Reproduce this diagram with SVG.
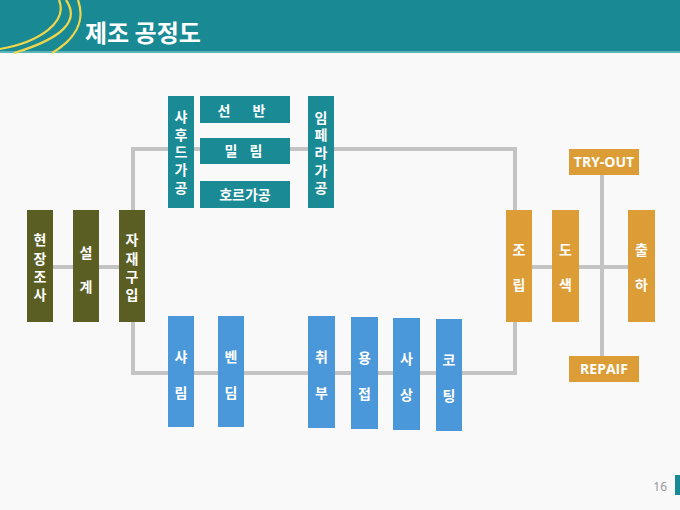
<svg xmlns="http://www.w3.org/2000/svg" width="680" height="510" viewBox="0 0 680 510">
<style>
.bg{fill:#f9f9f9}
.olive{fill:#5b5e23}
.teal{fill:#1a8a95}
.blue{fill:#4a97d9}
.orange{fill:#dc9d37}
.t{font-family:"Noto Sans CJK KR","Noto Sans",sans-serif;font-weight:bold;font-size:14px;fill:#ffffff;text-anchor:middle}
.e{font-family:"Open Sans","Noto Sans",sans-serif;font-weight:bold;font-size:14px;fill:#ffffff;text-anchor:middle}
.conn{fill:none;stroke:#c3c3c3;stroke-width:4}
.curve{fill:none;stroke:#f2d64a;stroke-width:2.2}
</style>
<rect class="bg" x="0" y="0" width="680" height="510"/>
<g id="header">
<rect x="0" y="0" width="680" height="52" fill="#198a94"/>
<rect x="0" y="51" width="680" height="2" fill="#5cb4bb"/>
<path class="curve" d="M59,0 C68,22 40,42 0,49"/>
<path class="curve" d="M66,0 C80,20 64,38 14,53"/>
<path class="curve" d="M78,0 C86,22 74,40 52,53"/>
<text x="85" y="42" font-family="Noto Sans CJK KR, Noto Sans, sans-serif" font-weight="bold" font-size="24" fill="#ffffff">제조 공정도</text>
</g>
<g id="connectors">
<line class="conn" x1="53" y1="267" x2="119" y2="267"/>
<line class="conn" x1="532" y1="267" x2="628" y2="267"/>
<polyline class="conn" points="133,210 133,149 515,149 515,210"/>
<polyline class="conn" points="133,322 133,373 515,373 515,322"/>
<line class="conn" x1="602" y1="175" x2="602" y2="356"/>
</g>
<g id="n-hyunjang"><rect class="olive" x="27" y="210" width="26" height="112"/>
<text class="t"><tspan x="40" y="245">현</tspan><tspan x="40" y="264">장</tspan><tspan x="40" y="282">조</tspan><tspan x="40" y="300">사</tspan></text></g>
<g id="n-seolgye"><rect class="olive" x="73" y="210" width="26" height="112"/>
<text class="t"><tspan x="86" y="258">설</tspan><tspan x="86" y="292">계</tspan></text></g>
<g id="n-jajae"><rect class="olive" x="119" y="210" width="26" height="112"/>
<text class="t"><tspan x="132" y="245">자</tspan><tspan x="132" y="264">재</tspan><tspan x="132" y="282">구</tspan><tspan x="132" y="300">입</tspan></text></g>
<g id="n-shaft"><rect class="teal" x="168" y="96" width="26" height="112"/>
<text class="t"><tspan x="181" y="122">샤</tspan><tspan x="181" y="140">후</tspan><tspan x="181" y="157">드</tspan><tspan x="181" y="175">가</tspan><tspan x="181" y="193">공</tspan></text></g>
<g id="n-seonban"><rect class="teal" x="200" y="96" width="90" height="27"/>
<text class="t"><tspan x="224" y="116">선</tspan><tspan x="259" y="116">반</tspan></text></g>
<g id="n-milling"><rect class="teal" x="200" y="138" width="90" height="26"/>
<text class="t"><tspan x="231" y="156">밀</tspan><tspan x="256" y="156">림</tspan></text></g>
<g id="n-hor"><rect class="teal" x="200" y="181" width="90" height="27"/>
<text class="t" x="245" y="200">호르가공</text></g>
<g id="n-imp"><rect class="teal" x="308" y="96" width="26" height="112"/>
<text class="t"><tspan x="321" y="123">임</tspan><tspan x="321" y="140">페</tspan><tspan x="321" y="158">라</tspan><tspan x="321" y="176">가</tspan><tspan x="321" y="193">공</tspan></text></g>
<g id="n-sharim"><rect class="blue" x="168" y="316" width="26" height="111"/>
<text class="t"><tspan x="181" y="362">샤</tspan><tspan x="181" y="398">림</tspan></text></g>
<g id="n-bending"><rect class="blue" x="218" y="316" width="26" height="111"/>
<text class="t"><tspan x="231" y="362">벤</tspan><tspan x="231" y="398">딤</tspan></text></g>
<g id="n-chwibu"><rect class="blue" x="308" y="316" width="27" height="112"/>
<text class="t"><tspan x="321.5" y="362">취</tspan><tspan x="321.5" y="398">부</tspan></text></g>
<g id="n-yongjeop"><rect class="blue" x="351" y="317" width="27" height="112"/>
<text class="t"><tspan x="364.5" y="363">용</tspan><tspan x="364.5" y="399">접</tspan></text></g>
<g id="n-sasang"><rect class="blue" x="393" y="318" width="27" height="112"/>
<text class="t"><tspan x="406.5" y="364">사</tspan><tspan x="406.5" y="400">상</tspan></text></g>
<g id="n-coating"><rect class="blue" x="436" y="319" width="26" height="112"/>
<text class="t"><tspan x="449" y="365">코</tspan><tspan x="449" y="401">팅</tspan></text></g>
<g id="n-jorip"><rect class="orange" x="506" y="210" width="26" height="112"/>
<text class="t"><tspan x="519" y="255">조</tspan><tspan x="519" y="290">립</tspan></text></g>
<g id="n-dosaek"><rect class="orange" x="552" y="210" width="27" height="112"/>
<text class="t"><tspan x="565.5" y="255">도</tspan><tspan x="565.5" y="290">색</tspan></text></g>
<g id="n-chulha"><rect class="orange" x="628" y="210" width="27" height="112"/>
<text class="t"><tspan x="641.5" y="255">출</tspan><tspan x="641.5" y="290">하</tspan></text></g>
<g id="n-tryout"><rect class="orange" x="569" y="149" width="70" height="26"/>
<text class="e" x="604" y="167">TRY-OUT</text></g>
<g id="n-repair"><rect class="orange" x="569" y="356" width="70" height="26"/>
<text class="e" x="604" y="374">REPAIF</text></g>
<g id="footer">
<text x="667" y="491" font-family="Noto Sans, sans-serif" font-size="12" fill="#9a9a9a" text-anchor="end">16</text>
<rect x="675" y="475" width="5" height="20" fill="#198a94"/>
</g>
</svg>
